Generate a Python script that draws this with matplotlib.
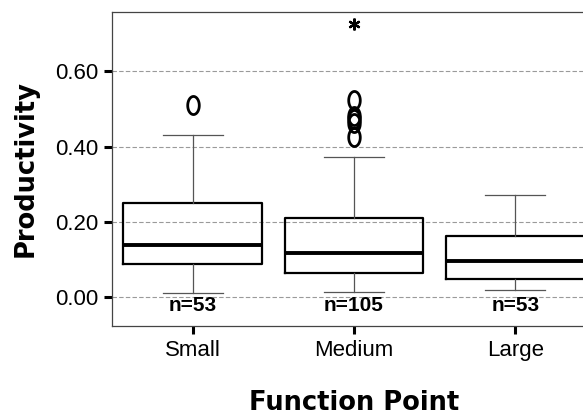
import matplotlib
matplotlib.use("Agg")
import matplotlib.pyplot as plt
import numpy as np
from matplotlib.path import Path

# Productivity by function-point size class
categories = ["Small", "Medium", "Large"]
counts = [53, 105, 53]
q1 = [0.088, 0.065, 0.049]
medians = [0.140, 0.118, 0.096]
q3 = [0.251, 0.210, 0.163]
whisker_low = [0.011, 0.015, 0.020]
whisker_high = [0.431, 0.373, 0.271]
outliers = [[0.511], [0.523, 0.482, 0.472, 0.462, 0.425], []]
extremes = [[], [0.725], []]
yticks = [0.0, 0.2, 0.4, 0.6]

plt.rcParams["font.family"] = ["Liberation Sans", "DejaVu Sans"]

fig = plt.figure(figsize=(5.83, 4.19), dpi=100)
W, H = 583, 419
ax = fig.add_axes([112 / W, 1 - 326 / H, 484 / W, 314 / H])

positions = np.arange(1, len(categories) + 1)

stats = []
for i, name in enumerate(categories):
    stats.append(dict(label=name, q1=q1[i], med=medians[i], q3=q3[i],
                      whislo=whisker_low[i], whishi=whisker_high[i],
                      fliers=np.array(outliers[i])))

# open, slightly tall "O" used for outliers
t = np.linspace(0, 2 * np.pi, 60)
ring = Path(np.column_stack([0.32 * np.cos(t), 0.5 * np.sin(t)]), closed=True)

ax.bxp(stats, positions=positions, widths=0.86, capwidths=0.37,
       patch_artist=False, manage_ticks=False,
       boxprops=dict(color="black", linewidth=1.6),
       medianprops=dict(color="black", linewidth=2.8),
       whiskerprops=dict(color="#555555", linewidth=0.9),
       capprops=dict(color="#555555", linewidth=0.9),
       flierprops=dict(marker=ring, markersize=13, markerfacecolor="none",
                       markeredgecolor="black", markeredgewidth=2.0,
                       linestyle="none"))

for i, vals in enumerate(extremes):
    if vals:
        ax.plot([positions[i]] * len(vals), vals, linestyle="none",
                marker=(6, 2, 0), markersize=8.5, markeredgewidth=1.6,
                color="black")

for p, n in zip(positions, counts):
    ax.text(p, -0.036, f"n={n}", ha="center", va="baseline",
            fontsize=15, fontweight="bold")

ax.set_xlim(0.5, 3.5)
ax.set_ylim(-0.076, 0.757)
ax.set_yticks(yticks)
ax.set_yticklabels([f"{v:.2f}" for v in yticks])
ax.set_xticks(positions)
ax.set_xticklabels(categories)

ax.set_axisbelow(True)
ax.yaxis.grid(True, linestyle=(0, (4, 2)), color="#9a9a9a", linewidth=0.8)

for side in ["left", "top", "bottom"]:
    ax.spines[side].set_color("#444444")
    ax.spines[side].set_linewidth(0.9)
ax.spines["right"].set_visible(False)

ax.tick_params(axis="y", direction="out", length=5.5, width=2.2,
               color="black", labelsize=16, pad=4.5)
ax.tick_params(axis="x", direction="out", length=5.5, width=2.2,
               color="black", labelsize=16, pad=4.5)

ax.set_xlabel("Function Point", fontsize=18.5, fontweight="bold",
              family="DejaVu Sans", labelpad=21)
ax.set_ylabel("Productivity", fontsize=18.5, fontweight="bold",
              family="DejaVu Sans", labelpad=12)

fig.savefig("out.png", dpi=100)
